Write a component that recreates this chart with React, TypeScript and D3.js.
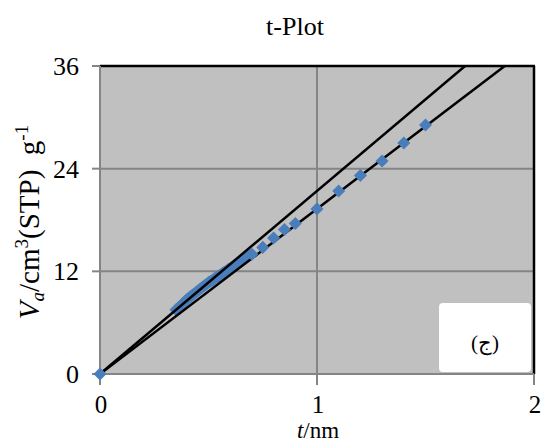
import React from "react";
import * as d3 from "d3";

const title = "t-Plot";
const xTicks = [0, 1, 2];
const yTicks = [0, 12, 24, 36];
const tValues = [0, 0.35, 0.36, 0.37, 0.38, 0.39, 0.4, 0.41, 0.42, 0.43, 0.44, 0.45, 0.46, 0.47, 0.48, 0.49, 0.5, 0.51, 0.52, 0.53, 0.54, 0.55, 0.56, 0.57, 0.58, 0.59, 0.6, 0.61, 0.62, 0.63, 0.64, 0.65, 0.66, 0.67, 0.68, 0.69, 0.7, 0.75, 0.8, 0.85, 0.9, 1.0, 1.1, 1.2, 1.3, 1.4, 1.5];
const vValues = [0, 7.5, 7.7, 7.95, 8.2, 8.45, 8.7, 8.9, 9.1, 9.3, 9.5, 9.7, 9.9, 10.1, 10.3, 10.5, 10.7, 10.85, 11.0, 11.2, 11.35, 11.5, 11.7, 11.85, 12.0, 12.2, 12.35, 12.5, 12.7, 12.85, 13.0, 13.2, 13.35, 13.5, 13.7, 13.85, 14.0, 14.8, 15.9, 16.9, 17.6, 19.3, 21.4, 23.2, 24.9, 27.0, 29.1];
const lineSlopes = [21.4, 19.3];
const legendLabel = "(ج)";

export default function App() {
  const W = 541, H = 442;
  const left = 100, right = 534, top = 66, bottom = 374;
  const x = d3.scaleLinear().domain([0, 2]).range([left, right]);
  const y = d3.scaleLinear().domain([0, 36]).range([bottom, top]);
  const diamond = d3.symbol().type(d3.symbolSquare).size(85)();
  const serif = "'Liberation Serif', 'Times New Roman', serif";
  const pts = tValues.map((t, i) => ({ t, v: vValues[i], i }));
  const dense = pts.filter((p) => p.t > 0 && p.t < 0.7);
  const sparse = pts.filter((p) => p.t === 0 || p.t >= 0.7);
  const drawPts = (arr: typeof pts) =>
    arr.map((p) => (
      <path key={"p" + p.i} d={diamond} transform={`translate(${x(p.t)},${y(p.v)}) rotate(45)`} fill="#4a7ebb" />
    ));

  return (
    <svg width={W} height={H} style={{ position: "absolute", left: 0, top: 0, background: "#fff" }} fontFamily={serif}>
      <defs>
        <clipPath id="plot">
          <rect x={left} y={top} width={right - left} height={bottom - top} />
        </clipPath>
      </defs>
      <rect x={left} y={top} width={right - left} height={bottom - top} fill="#c0c0c0" />
      {xTicks.filter((t) => t > 0 && t < 2).map((t) => (
        <line key={"gx" + t} x1={x(t)} x2={x(t)} y1={top} y2={bottom} stroke="#858585" strokeWidth={2} />
      ))}
      {yTicks.filter((t) => t > 0 && t < 36).map((t) => (
        <line key={"gy" + t} x1={left} x2={right} y1={y(t)} y2={y(t)} stroke="#858585" strokeWidth={2} />
      ))}
      <line x1={left} x2={right + 1} y1={top} y2={top} stroke="#000" strokeWidth={2.5} />
      <line x1={right} x2={right} y1={top} y2={bottom} stroke="#000" strokeWidth={2.5} />
      <line x1={left} x2={left} y1={top} y2={bottom} stroke="#858585" strokeWidth={2} />
      <line x1={left} x2={right} y1={bottom} y2={bottom} stroke="#858585" strokeWidth={2} />
      {yTicks.map((t) => (
        <g key={"yt" + t}>
          <line x1={left - 8} x2={left} y1={y(t)} y2={y(t)} stroke="#858585" strokeWidth={2} />
          <text x={79} y={y(t) + 9} textAnchor="end" fontSize={26}>{t}</text>
        </g>
      ))}
      {xTicks.map((t) => (
        <g key={"xt" + t}>
          <line x1={x(t)} x2={x(t)} y1={bottom} y2={bottom + 11} stroke="#858585" strokeWidth={2} />
          <text x={x(t) + 1} y={413} textAnchor="middle" fontSize={25}>{t}</text>
        </g>
      ))}
      {drawPts(dense)}
      <g clipPath="url(#plot)">
        {lineSlopes.map((s, i) => {
          const line = d3.line<number>().x((t) => x(t)).y((t) => y(s * t));
          return <path key={"l" + i} d={line([0, 36 / s]) || ""} stroke="#000" strokeWidth={2.5} fill="none" />;
        })}
      </g>
      {drawPts(sparse)}
      <rect x={439} y={303} width={92} height={69} rx={4} fill="#fff" />
      <text x={485} y={350} textAnchor="middle" fontSize={21}>{legendLabel}</text>
      <text x={295} y={35} textAnchor="middle" fontSize={26}>{title}</text>
      <text x={318} y={438} textAnchor="middle" fontSize={23}>
        <tspan fontStyle="italic">t</tspan>/nm
      </text>
      <text transform="translate(39,222) rotate(-90)" textAnchor="middle" fontSize={29}>
        <tspan fontStyle="italic">V</tspan>
        <tspan fontStyle="italic" fontSize={19} dy={5}>a</tspan>
        <tspan dy={-5}>/cm</tspan>
        <tspan fontSize={19} dy={-11}>3</tspan>
        <tspan dy={11}>{"(STP)\u00A0\u00A0g"}</tspan>
        <tspan fontSize={19} dy={-11}>-1</tspan>
      </text>
    </svg>
  );
}
